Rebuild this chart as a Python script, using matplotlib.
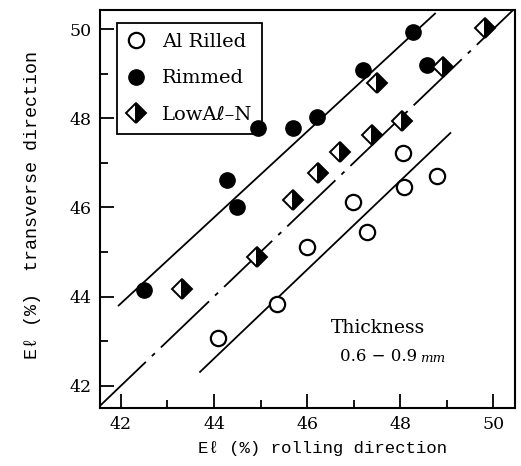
import numpy as np
import matplotlib
matplotlib.use("Agg")
import matplotlib.pyplot as plt
from matplotlib.ticker import MultipleLocator

plt.rcParams['font.family'] = ['DejaVu Serif', 'DejaVu Sans']
plt.rcParams['lines.scale_dashes'] = False

# data
al_x = [44.09, 45.35, 46.00, 47.29, 46.99, 48.09, 48.06, 48.80]
al_y = [43.07, 43.83, 45.11, 45.45, 46.12, 46.46, 47.22, 46.70]

rim_x = [42.49, 44.28, 44.49, 44.95, 45.70, 46.21, 47.20, 48.28, 48.58]
rim_y = [44.15, 46.61, 46.01, 47.78, 47.78, 48.03, 49.08, 49.93, 49.19]

low_x = [43.31, 44.92, 45.70, 46.24, 46.71, 47.40, 48.04, 47.50, 48.92, 49.83]
low_y = [44.17, 44.89, 46.17, 46.77, 47.24, 47.62, 47.94, 48.79, 49.15, 50.02]

# guide lines (end points)
upper_x = [41.95, 48.75]
upper_y = [43.80, 50.35]
lower_x = [43.70, 49.08]
lower_y = [42.31, 47.67]
diag = [41.5, 50.5]

xlim = (41.55, 50.47)
ylim = (41.50, 50.43)

fig = plt.figure(figsize=(5.21, 4.66), dpi=100)
ax = fig.add_axes([0.192, 0.1245, 0.7965, 0.854])

ax.plot(upper_x, upper_y, color='k', lw=1.3, zorder=2)
ax.plot(lower_x, lower_y, color='k', lw=1.3, zorder=2)
ax.plot(diag, diag, color='k', lw=1.3, linestyle=(0, (48, 6, 3, 6)), zorder=2)

ax.plot(al_x, al_y, 'o', ms=11, mfc='white', mec='k', mew=1.6,
        label='Al Rilled', zorder=6)
ax.plot(rim_x, rim_y, 'o', ms=11, mfc='k', mec='k', label='Rimmed', zorder=6)
ax.plot(low_x, low_y, 'D', ms=10.5, fillstyle='right', mfc='k', mfcalt='white',
        mec='k', mew=1.4, label='LowA\u2113\u2013N', zorder=6)

ax.set_xlim(*xlim)
ax.set_ylim(*ylim)
ax.xaxis.set_major_locator(MultipleLocator(2))
ax.xaxis.set_minor_locator(MultipleLocator(1))
ax.yaxis.set_major_locator(MultipleLocator(2))
ax.yaxis.set_minor_locator(MultipleLocator(1))
ax.tick_params(which='both', direction='in', top=False, right=False,
               labelsize=12.5, width=1.3)
ax.tick_params(axis='x', which='major', length=10, pad=6)
ax.tick_params(axis='y', which='major', length=10, pad=6)
ax.tick_params(which='minor', length=6)
for s in ax.spines.values():
    s.set_linewidth(1.5)

mono = ['Liberation Mono', 'DejaVu Sans Mono']
fig.text(0.5 * (198 + 448) / 521, 1 - 448 / 466, 'E\u2113 (%) rolling direction',
         family=mono, fontsize=12.5, ha='center', va='center')
fig.text(33 / 521, 1 - 205 / 466, 'E\u2113 (%)  transverse direction',
         family=mono, fontsize=13.2, ha='center', va='center', rotation=90)

ax.text(47.53, 43.3, 'Thickness', fontsize=13.5, ha='center', va='center')
ax.text(46.71, 42.65, '0.6 \u2212 0.9', fontsize=12, ha='left', va='center')
ax.text(48.42, 42.62, 'mm', fontsize=9.5, style='italic', ha='left', va='center')

leg = ax.legend(loc='upper left', bbox_to_anchor=(0.041, 0.967), fontsize=14,
                frameon=True, fancybox=False, edgecolor='k', framealpha=1,
                handlelength=1.0, handletextpad=0.8, labelspacing=0.95,
                borderpad=0.5, borderaxespad=0, numpoints=1)
leg.get_frame().set_linewidth(1.3)
leg.set_zorder(4)

fig.savefig('out.png', dpi=100)
